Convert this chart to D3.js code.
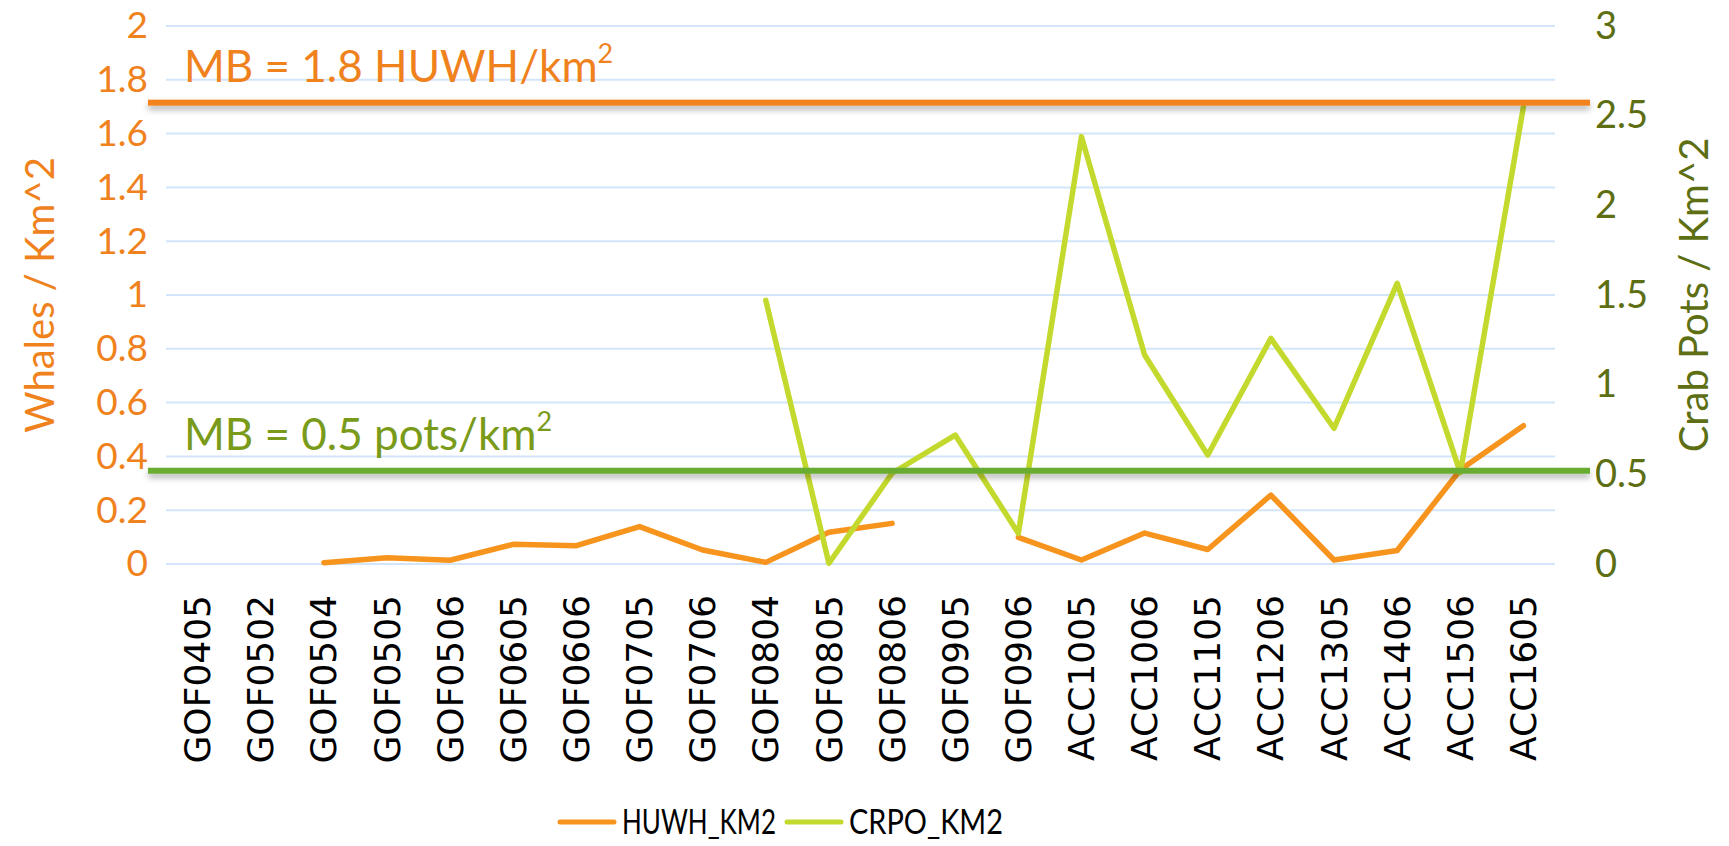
<!DOCTYPE html>
<html>
<head>
<meta charset="utf-8">
<script src="https://cdn.jsdelivr.net/npm/d3@7"></script>
<style>
  html, body { margin: 0; padding: 0; background: #ffffff; }
  svg { display: block; }
</style>
</head>
<body>
<svg id="chart" width="1729" height="846"></svg>
<script>
// ---------- data ----------
const categories = ["GOF0405","GOF0502","GOF0504","GOF0505","GOF0506","GOF0605","GOF0606","GOF0705","GOF0706","GOF0804","GOF0805","GOF0806","GOF0905","GOF0906","ACC1005","ACC1006","ACC1105","ACC1206","ACC1305","ACC1406","ACC1506","ACC1605"];
const huwhKm2 = [null,null,0.005,0.023,0.014,0.073,0.068,0.139,0.052,0.006,0.118,0.151,null,0.099,0.015,0.115,0.054,0.256,0.015,0.05,0.35,0.514];
const crpoKm2 = [null,null,null,null,null,null,null,null,null,1.47,0.004,0.506,0.719,0.171,2.383,1.165,0.608,1.258,0.757,1.565,0.51,2.55];
const leftTicks = [0,0.2,0.4,0.6,0.8,1,1.2,1.4,1.6,1.8,2];
const rightTicks = [0,0.5,1,1.5,2,2.5,3];
const seriesNames = ["HUWH_KM2","CRPO_KM2"];
const mbWhaleValue = 1.715;   // drawn threshold line (left axis units)
const mbPotValue = 0.52;      // drawn threshold line (right axis units)
const mbWhaleText = ["MB = 1.8 HUWH/km", "2"];
const mbPotText = ["MB = 0.5 pots/km", "2"];
const leftTitle = "Whales / Km^2";
const rightTitle = "Crab Pots / Km^2";

// ---------- layout / style ----------
const ORANGE_LINE = "#F7941D";
const GREEN_LINE = "#C4D92E";
const ORANGE_MB = "#F4821F";
const GREEN_MB = "#67AC33";
const ORANGE_TEXT = "#F0821E";
const OLIVE_TEXT = "#5D6E13";
const GREEN_TEXT = "#7A9A1A";
const GRID = "#D2E5FA";
const FONT = "Lato, 'Open Sans', sans-serif";

const plot = {left: 166, right: 1555, top: 26, bottom: 564};

const svg = d3.select("#chart");
const defs = svg.append("defs");
const f = defs.append("filter").attr("id","shadow").attr("filterUnits","userSpaceOnUse")
  .attr("x",0).attr("y",0).attr("width",1729).attr("height",846);
f.append("feDropShadow").attr("dx",0).attr("dy",4).attr("stdDeviation",3).attr("flood-color","#000").attr("flood-opacity",0.3);

const x = d3.scaleBand().domain(categories).range([plot.left, plot.right]).padding(0);
const yL = d3.scaleLinear().domain([0,2]).range([plot.bottom, plot.top]);
const yR = d3.scaleLinear().domain([0,3]).range([plot.bottom, plot.top]);
const cx = d => x(d) + x.bandwidth()/2;

// gridlines
svg.append("g").selectAll("line").data(leftTicks).join("line")
  .attr("x1", plot.left).attr("x2", plot.right)
  .attr("y1", d => yL(d)).attr("y2", d => yL(d))
  .attr("stroke", GRID).attr("stroke-width", 2);

// left axis
const gL = svg.append("g").attr("transform", `translate(${plot.left},0)`)
  .call(d3.axisLeft(yL).tickValues(leftTicks).tickSize(0).tickPadding(18).tickFormat(d3.format("~g")));
gL.select(".domain").remove();
gL.selectAll("text").attr("font-family", FONT).attr("font-size", 37).attr("fill", ORANGE_TEXT);

// right axis
const gR = svg.append("g").attr("transform", `translate(${plot.right},0)`)
  .call(d3.axisRight(yR).tickValues(rightTicks).tickSize(0).tickPadding(40).tickFormat(d3.format("~g")));
gR.select(".domain").remove();
gR.selectAll("text").attr("font-family", FONT).attr("font-size", 38).attr("fill", OLIVE_TEXT);

// bottom axis
const gB = svg.append("g").attr("transform", `translate(0,${plot.bottom})`)
  .call(d3.axisBottom(x).tickSize(0).tickPadding(0));
gB.select(".domain").remove();
gB.selectAll("text")
  .attr("font-family", "'DejaVu Sans', Verdana, sans-serif").attr("font-size", 36).attr("fill", "#000")
  .attr("text-anchor", "end").attr("dy", "0.35em")
  .attr("transform", "translate(0,31) rotate(-90)");

// axis titles
svg.append("text").attr("transform", `translate(40,${(plot.top+plot.bottom)/2}) rotate(-90)`)
  .attr("text-anchor","middle").attr("dy","0.35em")
  .attr("font-family", FONT).attr("font-size", 40).attr("fill", ORANGE_TEXT).text(leftTitle);
svg.append("text").attr("transform", `translate(1694,${(plot.top+plot.bottom)/2}) rotate(-90)`)
  .attr("text-anchor","middle").attr("dy","0.35em")
  .attr("font-family", FONT).attr("font-size", 40).attr("fill", OLIVE_TEXT).text(rightTitle);

// data lines
const lineL = d3.line().defined(d => d[1] !== null).x(d => cx(d[0])).y(d => yL(d[1]));
const lineR = d3.line().defined(d => d[1] !== null).x(d => cx(d[0])).y(d => yR(d[1]));
svg.append("path").datum(categories.map((c,i) => [c, huwhKm2[i]]))
  .attr("d", lineL).attr("fill","none").attr("stroke", ORANGE_LINE).attr("stroke-width", 5.5)
  .attr("stroke-linejoin","round").attr("stroke-linecap","round");
svg.append("path").datum(categories.map((c,i) => [c, crpoKm2[i]]))
  .attr("d", lineR).attr("fill","none").attr("stroke", GREEN_LINE).attr("stroke-width", 5.5)
  .attr("stroke-linejoin","round").attr("stroke-linecap","round");

// threshold lines (MB)
const mbX1 = 148, mbX2 = 1590, mbH = 6;
svg.append("rect").attr("x", mbX1).attr("width", mbX2 - mbX1).attr("y", yL(mbWhaleValue) - mbH/2).attr("height", mbH)
  .attr("fill", ORANGE_MB).attr("filter","url(#shadow)");
svg.append("rect").attr("x", mbX1).attr("width", mbX2 - mbX1).attr("y", yR(mbPotValue) - mbH/2).attr("height", mbH)
  .attr("fill", GREEN_MB).attr("filter","url(#shadow)");

function annot(txt, y, color) {
  const t = svg.append("text").attr("x", 184).attr("y", y)
    .attr("font-family", FONT).attr("font-size", 44).attr("fill", color);
  t.append("tspan").text(txt[0]);
  t.append("tspan").attr("font-size", 27).attr("dy", -19).text(txt[1]);
}
annot(mbWhaleText, yL(1.8) + 2, ORANGE_TEXT);
annot(mbPotText, 450, GREEN_TEXT);

// legend
const legend = svg.append("g").attr("transform", "translate(0,822)");
const legItems = [{name: seriesNames[0], color: ORANGE_LINE, x: 560}, {name: seriesNames[1], color: GREEN_LINE, x: 787}];
legItems.forEach(it => {
  legend.append("line").attr("x1", it.x).attr("x2", it.x + 54).attr("y1", 0).attr("y2", 0)
    .attr("stroke", it.color).attr("stroke-width", 5).attr("stroke-linecap","round");
  legend.append("text").attr("x", it.x + 62).attr("y", 0).attr("dy","0.36em")
    .attr("font-family", FONT).attr("font-size", 34).attr("fill", "#000")
    .attr("textLength", 154).attr("lengthAdjust", "spacingAndGlyphs").text(it.name);
});
</script>
</body>
</html>
